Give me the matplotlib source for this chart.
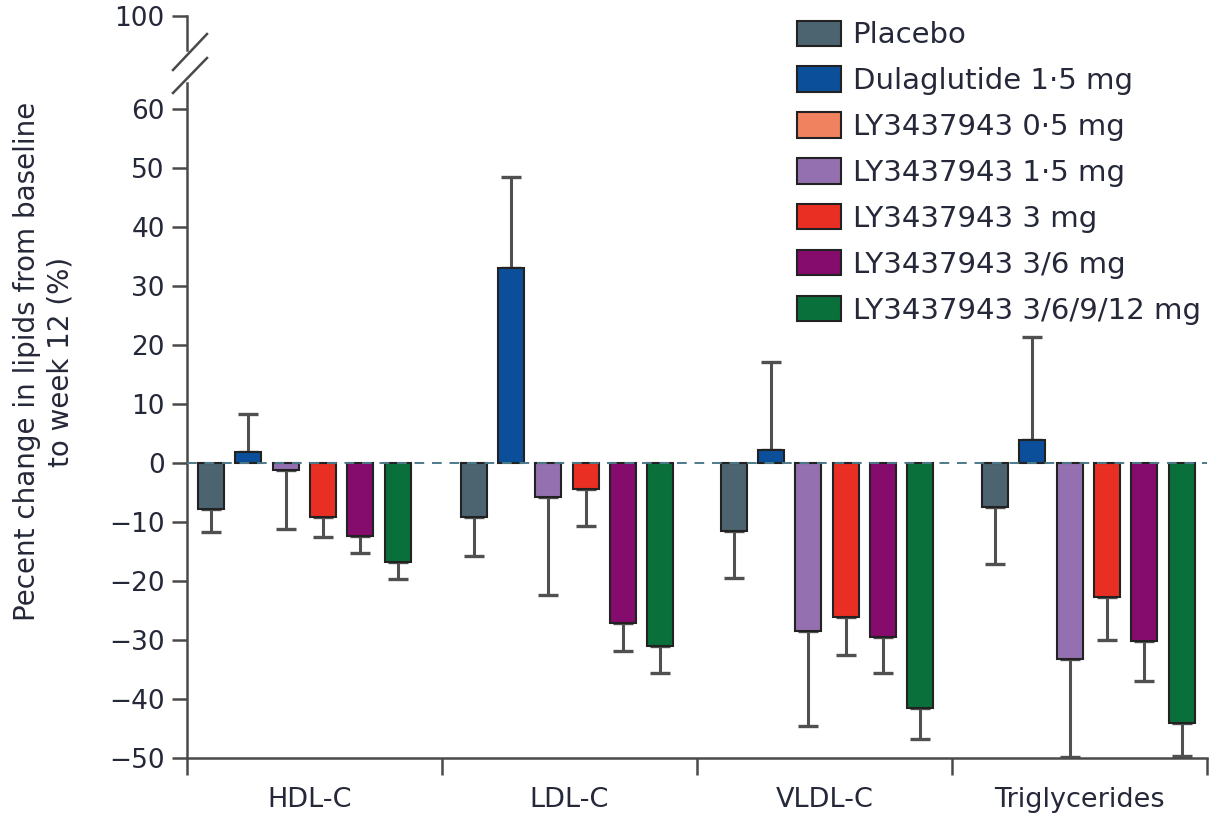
import matplotlib.pyplot as plt
from matplotlib.patches import Patch
from matplotlib.lines import Line2D
import numpy as np

plt.rcParams['font.family'] = ['DejaVu Sans']

# Lipid categories and treatment arms
categories = ['HDL-C', 'LDL-C', 'VLDL-C', 'Triglycerides']
arms = ['Placebo', 'Dulaglutide 1·5 mg', 'LY3437943 0·5 mg', 'LY3437943 1·5 mg',
        'LY3437943 3 mg', 'LY3437943 3/6 mg', 'LY3437943 3/6/9/12 mg']

# Mean percent change per arm (HDL-C, LDL-C, VLDL-C, Triglycerides); 0.5 mg arm not shown
placebo = [-7.8, -9.2, -11.5, -7.5]
dulaglutide = [1.9, 33.1, 2.2, 3.9]
ly_0_5 = [np.nan, np.nan, np.nan, np.nan]
ly_1_5 = [-1.2, -5.7, -28.5, -33.2]
ly_3 = [-9.2, -4.4, -26.1, -22.7]
ly_3_6 = [-12.3, -27.2, -29.5, -30.1]
ly_3_12 = [-16.7, -31.0, -41.5, -44.1]

# Error (one-sided, away from zero)
placebo_err = [3.9, 6.5, 8.0, 9.6]
dulaglutide_err = [6.4, 15.4, 14.9, 17.5]
ly_0_5_err = [np.nan, np.nan, np.nan, np.nan]
ly_1_5_err = [10.0, 16.7, 16.1, 16.6]
ly_3_err = [3.3, 6.3, 6.4, 7.3]
ly_3_6_err = [3.0, 4.7, 6.1, 6.8]
ly_3_12_err = [3.0, 4.6, 5.3, 5.6]

colors = ['#4b6470', '#0b4f9b', '#f0825f', '#9570b0', '#e92f24', '#850b6d', '#0a703b']
means = [placebo, dulaglutide, ly_0_5, ly_1_5, ly_3, ly_3_6, ly_3_12]
errs = [placebo_err, dulaglutide_err, ly_0_5_err, ly_1_5_err, ly_3_err, ly_3_6_err, ly_3_12_err]

text_color = '#252838'
axis_color = '#4a4a4a'

fig = plt.figure(figsize=(12.11, 8.22), dpi=100)
left, width = 0.1544, 0.8423
ax = fig.add_axes([left, 0.0779, width, 0.8211])
ax_top = fig.add_axes([left, 0.9392, width, 0.0413])

group_centers = np.array([-0.04, 0.99, 2.01, 3.035])
spacing = 0.1463
bar_w = 0.102

drawn = [i for i, m in enumerate(means) if not np.all(np.isnan(m))]
for slot, i in enumerate(drawn):
    x = group_centers + (slot - 2.5) * spacing
    vals = np.array(means[i])
    err = np.array(errs[i])
    lower = np.where(vals < 0, err, 0)
    upper = np.where(vals >= 0, err, 0)
    ax.errorbar(x, vals, yerr=[lower, upper], fmt='none', ecolor='#505050',
                elinewidth=2.2, capsize=7, capthick=2.4, zorder=2)
    ax.bar(x, vals, width=bar_w, color=colors[i], edgecolor='#222222',
           linewidth=1.5, zorder=3)

# dashed zero line
ax.axhline(0, color='#4d7a8c', lw=1.4, dashes=(5, 4), zorder=4)

ax.set_xlim(-0.5, 3.5)
ax.set_ylim(-50, 64.4)
ax.set_yticks(np.arange(-50, 61, 10))
ax.set_xticks([-0.5, 0.5, 1.5, 2.5, 3.5])
ax.set_xticklabels([])
ax.set_xticks([-0.02, 1, 2, 3], minor=True)
ax.set_xticklabels(categories, minor=True)
ax.tick_params(axis='x', which='minor', length=0, pad=21, labelsize=19.5, labelcolor=text_color)
ax.tick_params(axis='x', which='major', length=12, width=1.8, color=axis_color)
ax.tick_params(axis='y', length=11, width=1.8, color=axis_color, labelsize=19,
               labelcolor=text_color, pad=5)
for side in ['top', 'right']:
    ax.spines[side].set_visible(False)
for side in ['left', 'bottom']:
    ax.spines[side].set_color(axis_color)
    ax.spines[side].set_linewidth(1.8)

# upper part of the broken axis, only the 100 tick
ax_top.set_xlim(-0.5, 3.5)
ax_top.set_ylim(95, 100)
ax_top.set_yticks([100])
ax_top.set_xticks([])
ax_top.patch.set_visible(False)
for side in ['top', 'right', 'bottom']:
    ax_top.spines[side].set_visible(False)
ax_top.spines['left'].set_color(axis_color)
ax_top.spines['left'].set_linewidth(1.8)
ax_top.tick_params(axis='y', length=11, width=1.8, color=axis_color, labelsize=19,
                   labelcolor=text_color, pad=5)

# break marks
W, H = 1211, 822
for (x0, y0, x1, y1) in [(173, 70, 207, 34), (173, 93, 207, 58)]:
    fig.add_artist(Line2D([x0 / W, x1 / W], [1 - y0 / H, 1 - y1 / H],
                          color=axis_color, lw=1.8))

fig.text(0.036, 0.56, 'Pecent change in lipids from baseline\nto week 12 (%)',
         rotation=90, ha='center', va='center', multialignment='center',
         fontsize=20, color=text_color, linespacing=1.25)

handles = [Patch(facecolor=c, edgecolor='#222222', linewidth=1.5) for c in colors]
fig.legend(handles, arms, loc='upper left', bbox_to_anchor=(0.658, 0.975),
           frameon=False, fontsize=21, handlelength=1.5, handleheight=0.96,
           handletextpad=0.41, labelspacing=0.59, borderpad=0, borderaxespad=0,
           labelcolor=text_color)

fig.savefig('out.png', dpi=100)
